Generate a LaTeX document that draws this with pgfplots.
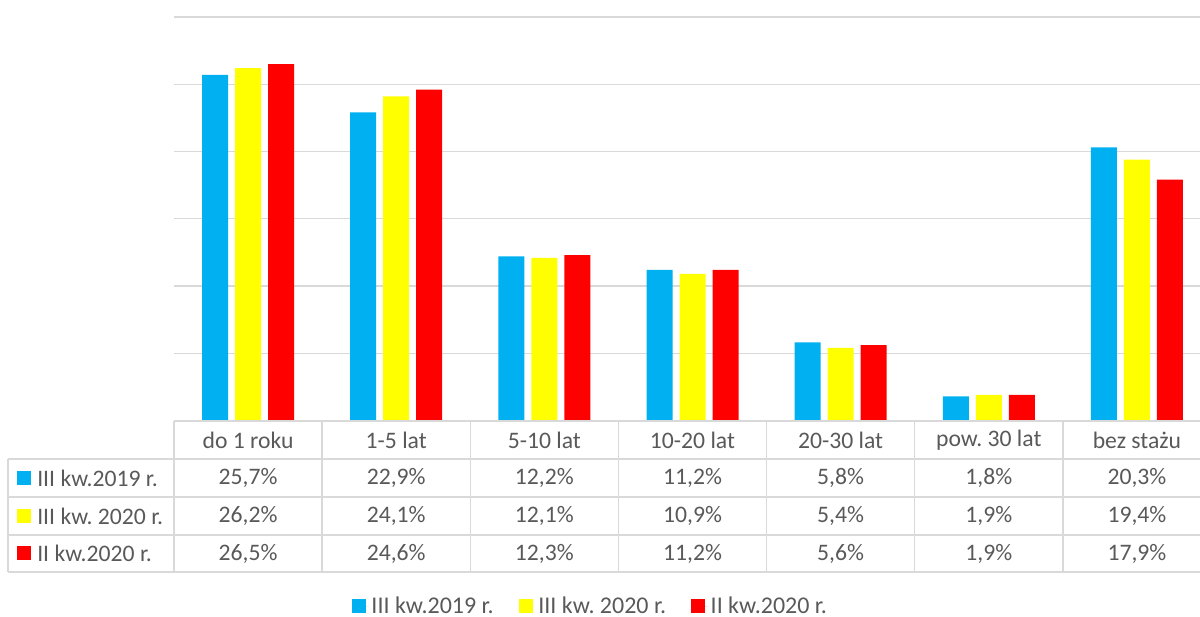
\documentclass[border=0pt]{standalone}
\usepackage{pgfplots}
\pgfplotsset{compat=1.18}
\usepackage{fontspec}
\setmainfont{Carlito}
\frenchspacing
\definecolor{cblue}{HTML}{00B0F0}
\definecolor{cyellow}{HTML}{FFFF00}
\definecolor{cred}{HTML}{FF0000}
\definecolor{gridc}{HTML}{D9D9D9}
\definecolor{txt}{HTML}{595959}
\begin{document}
\begin{tikzpicture}
\useasboundingbox (0pt,0pt) rectangle (900pt,462.75pt);
\begin{axis}[
  at={(130.5pt,147.375pt)}, anchor=south west,
  scale only axis, width=777.75pt, height=302.625pt,
  ymin=0, ymax=30, xmin=-0.5, xmax=6.5,
  ybar=5.25pt, bar width=19.5pt,
  axis line style={draw=none},
  xtick=\empty, ytick={0,5,...,30}, yticklabels={},
  major tick length=0pt,
  ymajorgrids, grid style={draw=gridc, line width=1.1pt},
  legend style={draw=none, fill=none, at={(0.402,-0.46)}, anchor=center,
    legend columns=3, font=\fontsize{18pt}{20pt}\selectfont\color{txt},
    /tikz/every even column/.append style={column sep=17pt},
    legend cell align=left},
  legend image code/.code={\fill[#1] (0pt,-5.25pt) rectangle (10.5pt,5.25pt); \path (0pt,0pt) -- (12.5pt,0pt);},
]
\addplot[fill=cblue, draw=none] coordinates {(0,25.7) (1,22.9) (2,12.2) (3,11.2) (4,5.8) (5,1.8) (6,20.3)};
\addplot[fill=cyellow, draw=none] coordinates {(0,26.2) (1,24.1) (2,12.1) (3,10.9) (4,5.4) (5,1.9) (6,19.4)};
\addplot[fill=cred, draw=none] coordinates {(0,26.5) (1,24.6) (2,12.3) (3,11.2) (4,5.6) (5,1.9) (6,17.9)};
\legend{III kw.2019 r., III kw. 2020 r., II kw.2020 r.}
\end{axis}
\begin{scope}[x=0.75pt,y=0.75pt]
\begin{scope}[line width=1pt]
\draw[gridc] (174,617-421) -- (1212,617-421);
\foreach \yy in {459,497,535,572} \draw[gridc] (8,617-\yy) -- (1212,617-\yy);
\draw[gridc] (8,617-459) -- (8,617-572);
\foreach \k in {0,...,7} \draw[gridc] ({174+148.14*\k},617-421) -- ({174+148.14*\k},617-572);
\end{scope}
\begin{scope}[font=\fontsize{17.75pt}{20pt}\selectfont, text=txt]
\foreach \lab [count=\i from 0] in {do 1 roku,1-5 lat,5-10 lat,10-20 lat,20-30 lat,pow. 30 lat,bez stażu}
  \node at ({174+148.14*(\i+0.5)},617-440) {\lab};
\foreach \v [count=\i from 0] in {25{,}7\%,22{,}9\%,12{,}2\%,11{,}2\%,5{,}8\%,1{,}8\%,20{,}3\%}
  \node at ({174+148.14*(\i+0.5)},617-478) {\v};
\foreach \v [count=\i from 0] in {26{,}2\%,24{,}1\%,12{,}1\%,10{,}9\%,5{,}4\%,1{,}9\%,19{,}4\%}
  \node at ({174+148.14*(\i+0.5)},617-516) {\v};
\foreach \v [count=\i from 0] in {26{,}5\%,24{,}6\%,12{,}3\%,11{,}2\%,5{,}6\%,1{,}9\%,17{,}9\%}
  \node at ({174+148.14*(\i+0.5)},617-553.5) {\v};
\fill[cblue] (17,617-471) rectangle (31,617-485);
\node[anchor=west, inner sep=0pt] at (37,617-478) {III kw.2019 r.};
\fill[cyellow] (17,617-509) rectangle (31,617-523);
\node[anchor=west, inner sep=0pt] at (37,617-516) {III kw. 2020 r.};
\fill[cred] (17,617-546.5) rectangle (31,617-560.5);
\node[anchor=west, inner sep=0pt] at (37,617-553.5) {II kw.2020 r.};
\end{scope}
\end{scope}
\end{tikzpicture}
\end{document}
